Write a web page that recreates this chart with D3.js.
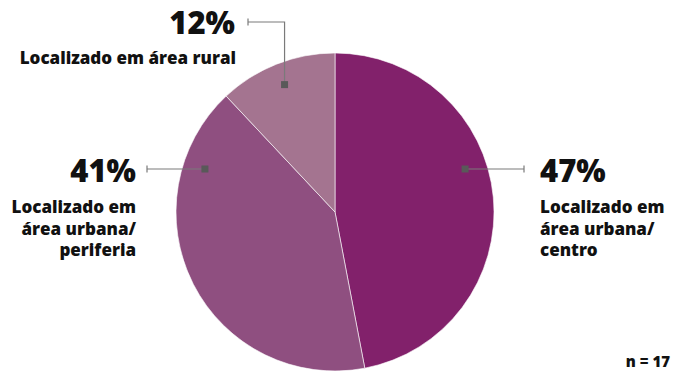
<!DOCTYPE html>
<html>
<head>
<meta charset="utf-8">
<script src="https://cdn.jsdelivr.net/npm/d3@7"></script>
<style>
  html, body { margin: 0; padding: 0; background: #fff; }
  svg { display: block; }
  text { font-family: "Open Sans", Lato, sans-serif; font-weight: 800; fill: #111; }
</style>
</head>
<body>
<svg id="chart" width="677" height="372"></svg>
<script>
// Share of locations (percent)
const categories = ["Localizado em área urbana/ centro", "Localizado em área urbana/ periferia", "Localizado em área rural"];
const values = [47, 41, 12];
const labelLines = [
  ["Localizado em", "área urbana/", "centro"],
  ["Localizado em", "área urbana/", "periferia"],
  ["Localizado em área rural"]
];
const colors = ["#82216b", "#8f4f80", "#a47490"];
const sampleNote = "n = 17";

const svg = d3.select("#chart");
const cx = 335, cy = 212, R = 159;

const pie = d3.pie().sort(null).value(d => d)(values);
const arc = d3.arc().innerRadius(0).outerRadius(R);

const g = svg.append("g").attr("transform", `translate(${cx},${cy})`);
g.selectAll("path.slice")
  .data(pie)
  .join("path")
  .attr("class", "slice")
  .attr("d", arc)
  .attr("fill", (d, i) => colors[i])
  .attr("stroke", "#fff")
  .attr("stroke-width", 0.6);

// Label layout: side, vertical placement of the leader, text anchor point
const layout = [
  { side: 1, leaderY: -43, lineEnd: 189, textX: 205, pctY: -30, firstY: 1, mode: "side" },
  { side: -1, leaderY: -43, lineEnd: -188, textX: -199, pctY: -30, firstY: 1, mode: "side" },
  { side: -1, mode: "top" }
];

const lineColor = "#7a7a7a", markColor = "#595959";
const mr = 137; // radius where leader markers sit
const pctSize = "31px", lblSize = "17px";

pie.forEach((d, i) => {
  const L = layout[i];
  const ann = g.append("g");
  const pct = values[i] + "%";
  if (L.mode === "side") {
    const y = L.leaderY;
    const x0 = L.side * Math.sqrt(mr * mr - y * y);
    ann.append("line").attr("x1", x0).attr("y1", y).attr("x2", L.lineEnd).attr("y2", y)
      .attr("stroke", lineColor).attr("stroke-width", 1.2);
    ann.append("line").attr("x1", L.lineEnd).attr("y1", y - 3.5).attr("x2", L.lineEnd).attr("y2", y + 3.5)
      .attr("stroke", lineColor).attr("stroke-width", 1.2);
    ann.append("rect").attr("x", x0 - 3.5).attr("y", y - 3.5).attr("width", 7).attr("height", 7)
      .attr("fill", markColor);
    const anchor = L.side > 0 ? "start" : "end";
    ann.append("text").attr("x", L.textX).attr("y", L.pctY)
      .attr("text-anchor", anchor).style("font-size", pctSize).text(pct);
    labelLines[i].forEach((t, k) => {
      ann.append("text").attr("x", L.textX).attr("y", L.firstY + k * 21.5)
        .attr("text-anchor", anchor).style("font-size", lblSize).text(t);
    });
  } else {
    const mid = (d.startAngle + d.endAngle) / 2;
    const mx = mr * Math.sin(mid), my = -mr * Math.cos(mid);
    const topY = -190, capX = -87;
    ann.append("path")
      .attr("d", `M${capX},${topY} H${mx} V${my}`)
      .attr("fill", "none").attr("stroke", lineColor).attr("stroke-width", 1.2);
    ann.append("line").attr("x1", capX).attr("y1", topY - 3.5).attr("x2", capX).attr("y2", topY + 3.5)
      .attr("stroke", lineColor).attr("stroke-width", 1.2);
    ann.append("rect").attr("x", mx - 3.5).attr("y", my - 3.5).attr("width", 7).attr("height", 7)
      .attr("fill", markColor);
    ann.append("text").attr("x", -100).attr("y", -178)
      .attr("text-anchor", "end").style("font-size", pctSize).text(pct);
    ann.append("text").attr("x", -99).attr("y", -148)
      .attr("text-anchor", "end").style("font-size", lblSize).text(labelLines[i][0]);
  }
});

svg.append("text").attr("x", 670).attr("y", 367).attr("text-anchor", "end")
  .style("font-size", "15px").text(sampleNote);
</script>
</body>
</html>
